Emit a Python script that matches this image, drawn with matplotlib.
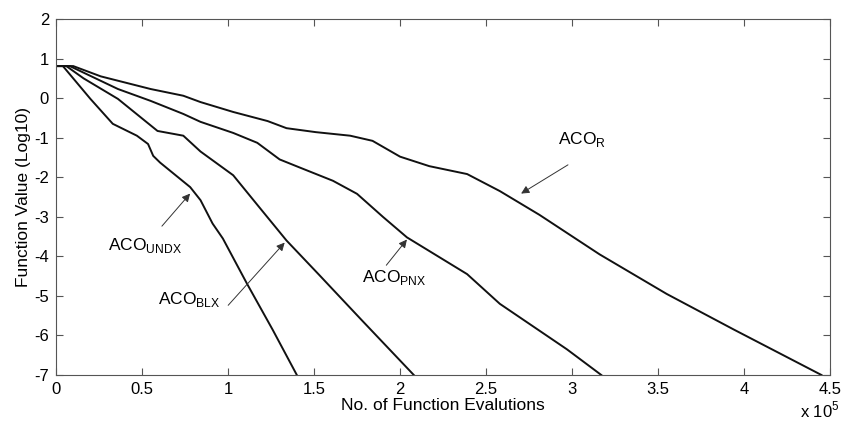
import numpy as np
import matplotlib
matplotlib.use("Agg")
import matplotlib.pyplot as plt

plt.rcParams["font.family"] = ["Liberation Sans", "DejaVu Sans"]
plt.rcParams["mathtext.fontset"] = "custom"
plt.rcParams["mathtext.rm"] = "Liberation Sans"
plt.rcParams["axes.unicode_minus"] = False

# curves, x in units of 1e5 evaluations, y = log10 of function value
aco_r_x = [0, 0.1, 0.26, 0.55, 0.74, 0.84, 1.03, 1.23, 1.34, 1.51, 1.71, 1.84, 2.0, 2.17, 2.39,
           2.58, 2.81, 3.16, 3.55, 3.94, 4.45]
aco_r_y = [0.81, 0.81, 0.55, 0.23, 0.06, -0.1, -0.35, -0.58, -0.76, -0.86, -0.95, -1.08, -1.48,
           -1.72, -1.92, -2.35, -2.95, -3.95, -4.95, -5.85, -7.0]

aco_pnx_x = [0, 0.08, 0.36, 0.55, 0.74, 0.84, 1.03, 1.17, 1.30, 1.42, 1.61, 1.75, 1.90, 2.04,
             2.39, 2.58, 2.97, 3.17]
aco_pnx_y = [0.81, 0.81, 0.23, -0.07, -0.4, -0.6, -0.88, -1.13, -1.55, -1.76, -2.09, -2.42,
             -3.0, -3.52, -4.45, -5.2, -6.35, -7.0]

aco_blx_x = [0, 0.06, 0.16, 0.36, 0.59, 0.74, 0.84, 1.03, 1.18, 1.34, 1.53, 1.77, 2.08]
aco_blx_y = [0.81, 0.81, 0.5, -0.02, -0.83, -0.95, -1.35, -1.95, -2.75, -3.6, -4.47, -5.58, -7.0]

aco_undx_x = [0, 0.04, 0.2, 0.33, 0.47, 0.535, 0.565, 0.605, 0.78, 0.84, 0.91, 0.97, 1.11,
              1.26, 1.40]
aco_undx_y = [0.81, 0.81, -0.02, -0.65, -0.95, -1.16, -1.46, -1.63, -2.25, -2.58, -3.17, -3.55,
              -4.69, -5.86, -7.0]

fig = plt.figure(figsize=(8.54, 4.28), dpi=100)
ax = fig.add_axes([0.0656, 0.1238, 0.9064, 0.8318])

for xs, ys in [(aco_r_x, aco_r_y), (aco_pnx_x, aco_pnx_y),
               (aco_blx_x, aco_blx_y), (aco_undx_x, aco_undx_y)]:
    ax.plot(xs, ys, color="#111111", lw=1.4)

ax.set_xlim(0, 4.5)
ax.set_ylim(-7, 2)
ax.set_xticks(np.arange(0, 4.51, 0.5))
ax.set_xticklabels(["0", "0.5", "1", "1.5", "2", "2.5", "3", "3.5", "4", "4.5"])
ax.set_yticks(range(-7, 3))
ax.tick_params(direction="in", top=True, right=True, length=5, width=0.8,
               color="#555555", labelsize=12, pad=5)
for s in ax.spines.values():
    s.set_color("#555555")
    s.set_linewidth(0.8)

ax.set_xlabel("No. of Function Evalutions", fontsize=12.5, labelpad=1)
ax.set_ylabel("Function Value (Log10)", fontsize=12.5, labelpad=2)
fig.text(0.937, 0.025, r"x 10$^{5}$", fontsize=12)

arrow = dict(arrowstyle="-|>", color="#333333", lw=0.7, mutation_scale=12)
notes = [
    (r"ACO$_{\rm R}$", (2.69, -2.45), (2.99, -1.65), (2.92, -1.05)),
    (r"ACO$_{\rm UNDX}$", (0.79, -2.36), (0.605, -3.29), (0.30, -3.72)),
    (r"ACO$_{\rm BLX}$", (1.34, -3.6), (0.99, -5.29), (0.59, -5.1)),
    (r"ACO$_{\rm PNX}$", (2.05, -3.52), (1.91, -4.28), (1.78, -4.53)),
]
for label, head, tail, txt in notes:
    ax.annotate("", xy=head, xytext=tail, arrowprops=arrow)
    ax.text(txt[0], txt[1], label, fontsize=12.5, va="center", ha="left")

fig.savefig("out.png", dpi=100)
